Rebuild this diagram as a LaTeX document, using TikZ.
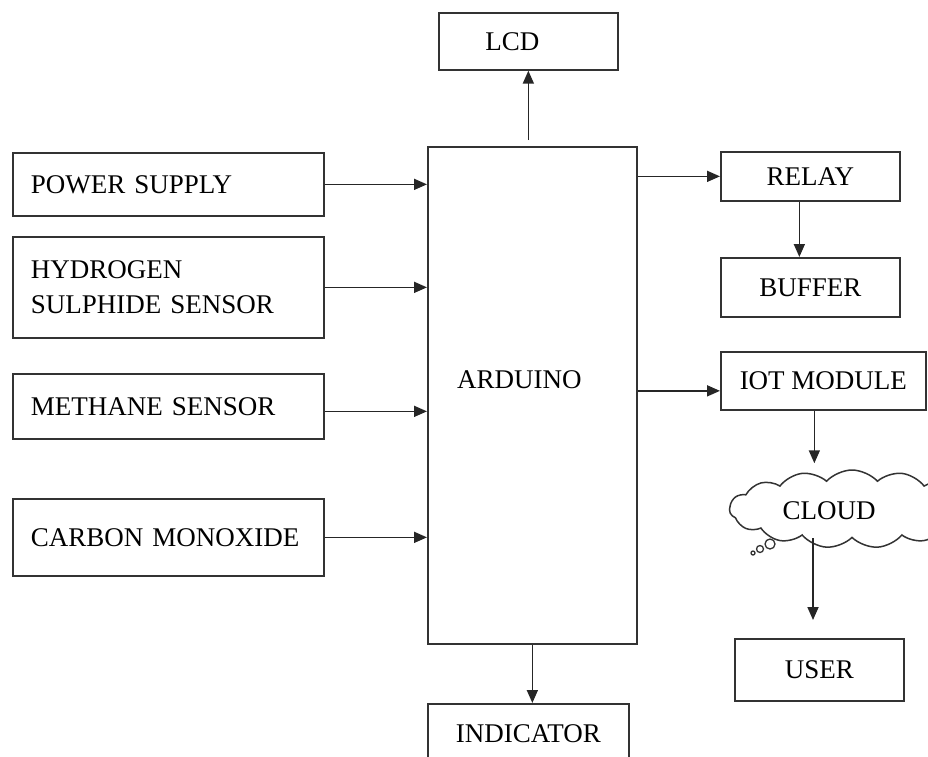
\documentclass[tikz,border=0pt]{standalone}
\usepackage{fontspec}
\setmainfont{Liberation Serif}
\usetikzlibrary{arrows.meta,shapes.symbols,calc}

\tikzset{
	blk/.style={draw=black!80, line width=1.7pt, anchor=north west, inner sep=0pt},
	sensor/.style={blk, text width=275pt, inner xsep=18pt, align=left},
	arr/.style={-{Triangle[length=13pt,width=11pt]}, line width=1.7pt, draw=black!85},
}

\begin{document}
\begin{tikzpicture}[x=1pt, y=-1pt, font=\fontsize{27}{35}\selectfont]
	\useasboundingbox (0,0) rectangle (928,756);
	
	% inputs on the left
	\node[sensor, minimum height=63pt] (ps) at (12,152) {POWER SUPPLY};
	\node[sensor, minimum height=101pt] (hs) at (12,236) {HYDROGEN\\SULPHIDE SENSOR};
	\node[sensor, minimum height=65pt] (ms) at (12,373) {METHANE SENSOR};
	\node[sensor, minimum height=77pt] (co) at (12,498) {CARBON MONOXIDE};
	
	% controller
	\node[blk, minimum width=209pt, minimum height=497pt,
		label={[xshift=-13pt, yshift=16pt]center:ARDUINO}] (ard) at (427,146) {};
	\node[blk, minimum width=179pt, minimum height=57pt,
		label={[xshift=-16pt]center:LCD}] (lcd) at (438,12) {};
	\node[blk, minimum width=201pt, minimum height=60pt] (ind) at (427,703) {INDICATOR};
	
	% outputs on the right
	\node[blk, minimum width=179pt, minimum height=49pt] (relay) at (720,151) {RELAY};
	\node[blk, minimum width=179pt, minimum height=59pt] (buf) at (720,257) {BUFFER};
	\node[blk, minimum width=205pt, minimum height=58pt] (iot) at (720,351) {IOT MODULE};
	\node[cloud, draw=black!80, line width=1.5pt, cloud puffs=15, cloud puff arc=95, aspect=3.2,
		minimum width=245pt, minimum height=78pt, inner sep=0pt] (cloud) at (852,509) {};
	\node (cloudtxt) at (829,511) {CLOUD};
	\draw[black!80, line width=1.3pt] (770,544) circle (5pt) (760,549) circle (3.5pt) (753,553) circle (2pt);% thought bubbles
	\node[blk, minimum width=169pt, minimum height=62pt] (user) at (734,638) {USER};
	\coordinate (cloudout) at (813,538);
	
	% connectors
	\foreach \src in {ps, hs, co} {
		\draw[arr] (\src.east) -- (\src.east -| ard.west);
	}
	\draw[arr] ([yshift=-5pt]ms.east) -- ([yshift=-5pt]ms.east -| ard.west);
	\draw[arr, shorten <=6pt] (lcd.south |- ard.north) -- (lcd.south);
	\draw[arr] (ard.south) -- (ard.south |- ind.north);
	\draw[arr] (ard.east |- relay.west) -- (relay.west);
	\draw[arr] ([xshift=-11pt]relay.south) -- ([xshift=-11pt]relay.south |- buf.north);
	\draw[arr] ([yshift=-10pt]iot.west -| ard.east) -- ([yshift=-10pt]iot.west);
	\draw[arr, shorten >=6pt] ([xshift=-9pt]iot.south) -- ([xshift=-9pt]iot.south |- cloud.north);
	\draw[arr, shorten >=18pt] (cloudout) -- (cloudout |- user.north);
\end{tikzpicture}
\end{document}
